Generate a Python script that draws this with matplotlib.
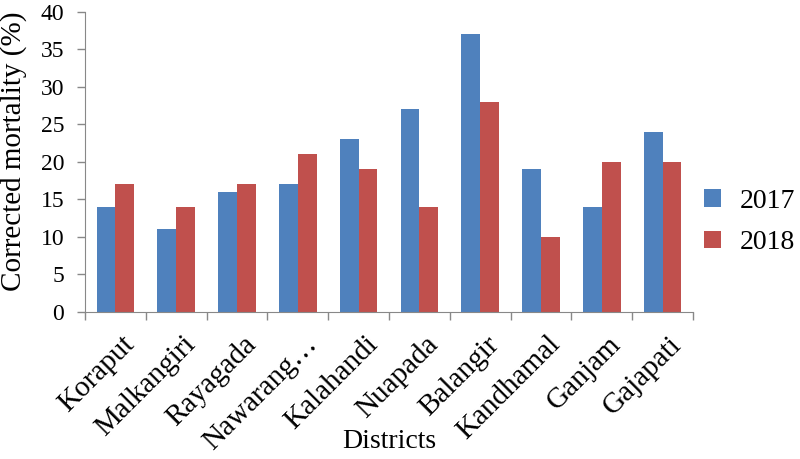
import matplotlib.pyplot as plt
import matplotlib.transforms as mtransforms
import numpy as np

districts = ["Koraput", "Malkangiri", "Rayagada", "Nawarang…", "Kalahandi",
             "Nuapada", "Balangir", "Kandhamal", "Ganjam", "Gajapati"]
mort_2017 = [14, 11, 16, 17, 23, 27, 37, 19, 14, 24]
mort_2018 = [17, 14, 17, 21, 19, 14, 28, 10, 20, 20]

plt.rcParams["font.family"] = ["Liberation Serif", "DejaVu Serif"]

fig = plt.figure(figsize=(8, 4.59), dpi=100)
ax = fig.add_axes([0.10625, 0.3203, 0.76, 0.6536])

x = np.arange(len(districts))
w = 0.31
ax.bar(x - w / 2, mort_2017, w, color="#4F81BD", label="2017")
ax.bar(x + w / 2, mort_2018, w, color="#C0504D", label="2018")

ax.set_xlim(-0.5, len(districts) - 0.5)
ax.set_ylim(0, 40)
ax.set_yticks(range(0, 41, 5))
ax.tick_params(axis="y", labelsize=17, length=6, color="#888888", width=1, pad=9)

# category separators as minor ticks
ax.set_xticks(list(x - 0.5) + [len(districts) - 0.5], minor=True)
ax.set_xticks(x)
ax.set_xticklabels(districts, rotation=45, ha="right", va="top",
                   rotation_mode="anchor", fontsize=21)
ax.tick_params(axis="x", which="major", length=0, pad=14)
ax.tick_params(axis="x", which="minor", length=6, color="#888888", width=1)
shift = mtransforms.ScaledTranslation(6 / 100, 0, fig.dpi_scale_trans)
for lbl in ax.get_xticklabels():
    lbl.set_transform(lbl.get_transform() + shift)

for side in ["top", "right"]:
    ax.spines[side].set_visible(False)
for side in ["left", "bottom"]:
    ax.spines[side].set_color("#888888")

ax.set_ylabel("Corrected mortality (%)", fontsize=21)
ax.yaxis.set_label_coords(-0.095, 0.537)
ax.set_xlabel("Districts", fontsize=20)
ax.xaxis.set_label_coords(0.5, -0.39)

ax.legend(loc="center left", bbox_to_anchor=(1.0, 0.30), borderaxespad=0,
          frameon=False, fontsize=20, handlelength=0.6, handleheight=0.6,
          handletextpad=0.7, labelspacing=0.6, borderpad=0.4)

fig.savefig("out.png", dpi=100)
